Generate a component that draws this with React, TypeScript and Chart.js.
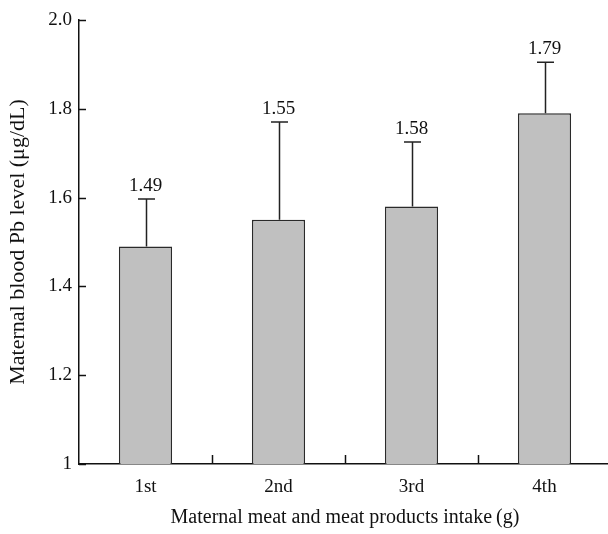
import React, { useEffect, useRef } from "react";
import { Chart, registerables } from "chart.js";

Chart.register(...registerables);

const categories = ["1st", "2nd", "3rd", "4th"];
const means = [1.49, 1.55, 1.58, 1.79];
const errors = [0.107, 0.22, 0.145, 0.115];
const yTickLabels = ["1", "1.2", "1.4", "1.6", "1.8", "2.0"];
const xTitle = "Maternal meat and meat products intake\u2009(g)";
const yTitle = "Maternal blood Pb level (\u03bcg/dL)";

const FONT = '"Liberation Serif", "Times New Roman", serif';
const INK = "#111111";

const decorPlugin = {
  id: "decor",
  afterDatasetsDraw(chart: any) {
    const { ctx, scales } = chart;
    const y = scales.y;
    const x = scales.x;
    const area = chart.chartArea;
    ctx.save();
    ctx.strokeStyle = INK;
    ctx.lineWidth = 1.5;
    y.ticks.forEach((t: any) => {
      const py = Math.round(y.getPixelForValue(t.value)) + 0.5;
      ctx.beginPath();
      ctx.moveTo(area.left, py);
      ctx.lineTo(area.left + 7, py);
      ctx.stroke();
    });
    for (let i = 1; i < categories.length; i++) {
      const px =
        Math.round((x.getPixelForValue(i - 1) + x.getPixelForValue(i)) / 2) + 0.5;
      ctx.beginPath();
      ctx.moveTo(px, area.bottom);
      ctx.lineTo(px, area.bottom - 9);
      ctx.stroke();
    }
    const meta = chart.getDatasetMeta(0);
    ctx.strokeStyle = "#222222";
    ctx.lineWidth = 1.5;
    ctx.fillStyle = INK;
    ctx.font = `19px ${FONT}`;
    ctx.textAlign = "center";
    ctx.textBaseline = "middle";
    meta.data.forEach((bar: any, i: number) => {
      const bx = Math.round(bar.x) + 0.5;
      const top = y.getPixelForValue(means[i] + errors[i]);
      ctx.beginPath();
      ctx.moveTo(bx, bar.y);
      ctx.lineTo(bx, top);
      ctx.moveTo(bx - 8.5, top);
      ctx.lineTo(bx + 8.5, top);
      ctx.stroke();
      ctx.fillText(means[i].toFixed(2), bar.x, top - 13);
    });
    ctx.restore();
  },
};

export default function App() {
  const ref = useRef<HTMLCanvasElement | null>(null);
  useEffect(() => {
    if (!ref.current) return;
    const chart = new Chart(ref.current, {
      type: "bar",
      data: {
        labels: categories,
        datasets: [
          {
            data: means,
            backgroundColor: "#c0c0c0",
            borderColor: "#2a2a2a",
            borderWidth: 1.5,
            borderSkipped: false,
            categoryPercentage: 1,
            barPercentage: 0.4,
          },
        ],
      },
      options: {
        responsive: false,
        animation: false,
        devicePixelRatio: 1,
        layout: { padding: { left: 0, top: 20, right: 9, bottom: 0 } },
        plugins: { legend: { display: false }, tooltip: { enabled: false } },
        scales: {
          x: {
            grid: { display: false, drawTicks: false },
            border: { display: true, color: INK, width: 1.5 },
            ticks: {
              color: INK,
              padding: 12,
              font: { family: FONT, size: 19 },
            },
            title: {
              display: true,
              text: xTitle,
              color: INK,
              font: { family: FONT, size: 20 },
              padding: { top: 0, bottom: 4 },
            },
            afterFit: (s: any) => {
              s.height = 70;
            },
          },
          y: {
            min: 1,
            max: 2,
            grid: { display: false, drawTicks: false },
            border: { display: true, color: INK, width: 1.5 },
            ticks: {
              stepSize: 0.2,
              color: INK,
              padding: 7,
              font: { family: FONT, size: 19 },
              callback: (_v: any, i: number) => yTickLabels[i],
            },
            title: {
              display: true,
              text: yTitle,
              color: INK,
              font: { family: FONT, size: 22 },
              padding: { top: 5, bottom: 0 },
            },
            afterFit: (s: any) => {
              s.width = 79;
            },
          },
        },
      },
      plugins: [decorPlugin],
    });
    return () => chart.destroy();
  }, []);
  return (
    <div
      style={{
        position: "fixed",
        left: 0,
        top: 0,
        width: 608,
        height: 534,
        overflow: "hidden",
        background: "#fff",
      }}
    >
      <canvas ref={ref} width={620} height={534} style={{ display: "block" }} />
    </div>
  );
}
